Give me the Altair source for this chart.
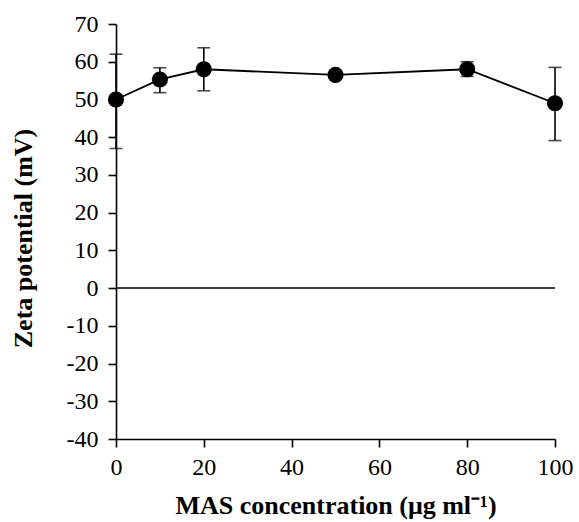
import altair as alt
import pandas as pd

conc = [0, 10, 20, 50, 80, 100]
zeta = [50.0, 55.3, 58.0, 56.5, 58.0, 49.0]
err_low = [37.0, 51.8, 52.3, 55.8, 56.1, 39.1]
err_high = [62.0, 58.4, 63.7, 57.2, 60.0, 58.5]

x_ticks = [0, 20, 40, 60, 80, 100]
y_ticks = [-40, -30, -20, -10, 0, 10, 20, 30, 40, 50, 60, 70]

df = pd.DataFrame({"conc": conc, "zeta": zeta, "lo": err_low, "hi": err_high})

FONT = "Liberation Serif"

xscale = alt.Scale(domain=[0, 100], nice=False, zero=False)
yscale = alt.Scale(domain=[-40, 70], nice=False, zero=False)

xax = alt.Axis(
    values=x_ticks, title="MAS concentration (μg ml⁻¹)", grid=False,
    labelPadding=8, titleBaseline="alphabetic", titleY=74, labelFlush=False,
    labelExpr="'' + datum.value",
)
yax = alt.Axis(
    values=y_ticks, title="Zeta potential (mV)", grid=False,
    labelPadding=10, titleX=-93, titleY=214, titleAngle=270,
    titleBaseline="middle", titleAlign="center", labelFlush=False,
    labelExpr="'' + datum.value",
)

base = alt.Chart(df)


def X(field):
    return alt.X(field, type="quantitative", scale=xscale, axis=xax)


def Y(field):
    return alt.Y(field, type="quantitative", scale=yscale, axis=yax)


bars = base.mark_rule(color="black", strokeWidth=1.6).encode(
    x=X("conc"), y=Y("lo"), y2="hi:Q"
)
cap_lo = base.mark_tick(color="black", orient="horizontal", size=13, thickness=1.6).encode(
    x=X("conc"), y=Y("lo")
)
cap_hi = base.mark_tick(color="black", orient="horizontal", size=13, thickness=1.6).encode(
    x=X("conc"), y=Y("hi")
)
zero = alt.Chart(pd.DataFrame({"z": [0]})).mark_rule(color="black", strokeWidth=1.5).encode(
    y=Y("z")
)
line = base.mark_line(color="black", strokeWidth=1.8).encode(x=X("conc"), y=Y("zeta"))
pts = base.mark_point(filled=True, color="black", size=260, opacity=1).encode(
    x=X("conc"), y=Y("zeta")
)

chart = alt.layer(line, zero, bars, cap_lo, cap_hi, pts).properties(
    width=439, height=415,
    autosize=alt.AutoSizeParams(type="none"),
    padding={"left": 116, "top": 24, "right": 24, "bottom": 83},
    background="white",
).configure_view(stroke=None).configure_axis(
    domainColor="black", domainWidth=1.6, tickColor="black", tickWidth=1.6, tickSize=8,
    labelFont=FONT, labelFontSize=24, labelColor="black",
    titleFont=FONT, titleFontSize=26, titleFontWeight="bold", titleColor="black",
)

chart.save("out.html", embed_options={"renderer": "svg", "actions": False})
